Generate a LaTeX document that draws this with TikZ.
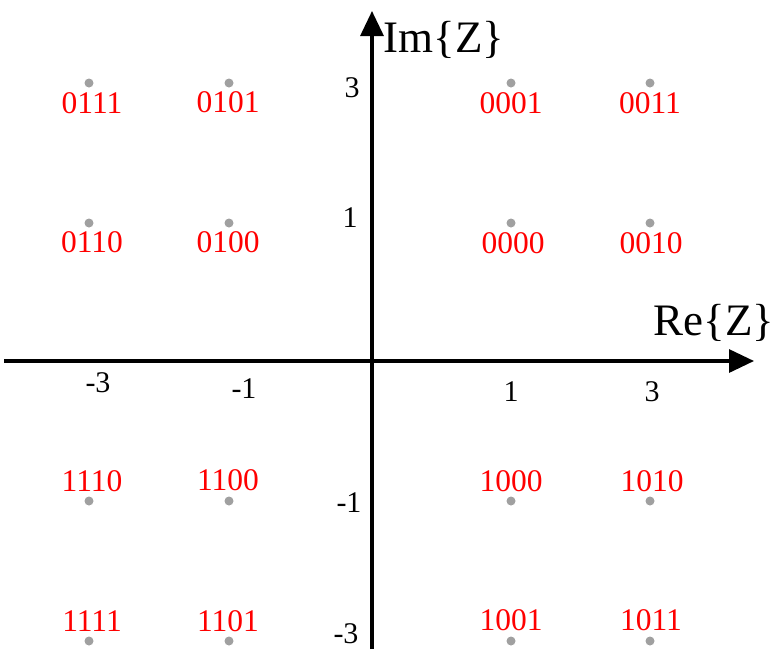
\documentclass[tikz,border=0pt]{standalone}
\usepackage{fontspec}
\setmainfont{Liberation Serif}
\usetikzlibrary{arrows.meta}
\definecolor{dotgray}{RGB}{160,160,160}
\begin{document}
\begin{tikzpicture}[x=1pt,y=-1pt,
  axis/.style={line width=3.2pt,-{Triangle[length=25pt,width=23pt]}},
  pt/.style={circle,fill=dotgray,inner sep=0pt,minimum size=9pt},
  lab/.style={text=red,font=\fontsize{31.5}{31.5}\selectfont,inner sep=0pt},
  tick/.style={font=\fontsize{30}{30}\selectfont,inner sep=0pt},
  axlab/.style={font=\fontsize{45}{45}\selectfont,inner sep=0pt}]
\useasboundingbox (0,0) rectangle (774,649);
% axes
\coordinate (xs) at (4,361);
\coordinate (xe) at (754,361);
\coordinate (ys) at (372,649);
\coordinate (ye) at (372,11);
\draw[axis] (xs) -- (xe);
\draw[axis] (ys) -- (ye);
\node[axlab] (im) at (444,40) {Im\{Z\}};
\node[axlab] (re) at (714,323) {Re\{Z\}};
% ticks
\node[tick] (t3) at (352,88) {3};
\node[tick] (t1) at (350,218) {1};
\node[tick] (tm1) at (349,503) {-1};
\node[tick] (tm3) at (346,634) {-3};
\node[tick] (sm3) at (98,383) {-3};
\node[tick] (sm1) at (244,389) {-1};
\node[tick] (s1) at (511,392) {1};
\node[tick] (s3) at (652,392) {3};
% points
\foreach \n/\x/\y in {a/89/83,b/229/83,c/511/83,d/650/83,
                      e/89/223,f/229/223,g/511/223,h/650/223,
                      i/89/501,j/229/501,k/511/501,l/650/501,
                      m/89/641,n/229/641,o/511/641,p/650/641}
  \node[pt] (\n) at (\x,\y) {};
% labels
\node[lab] (la) at (92,103) {0111};
\node[lab] (lb) at (228,102) {0101};
\node[lab] (lc) at (511,103) {0001};
\node[lab] (ld) at (650,103) {0011};
\node[lab] (le) at (92,242) {0110};
\node[lab] (lf) at (228,242) {0100};
\node[lab] (lg) at (513,243) {0000};
\node[lab] (lh) at (651,243) {0010};
\node[lab] (li) at (92,481) {1110};
\node[lab] (lj) at (228,480) {1100};
\node[lab] (lk) at (511,481) {1000};
\node[lab] (ll) at (652,481) {1010};
\node[lab] (lm) at (92,621) {1111};
\node[lab] (ln) at (228,621) {1101};
\node[lab] (lo) at (511,620) {1001};
\node[lab] (lp) at (651,620) {1011};
\end{tikzpicture}
\end{document}
